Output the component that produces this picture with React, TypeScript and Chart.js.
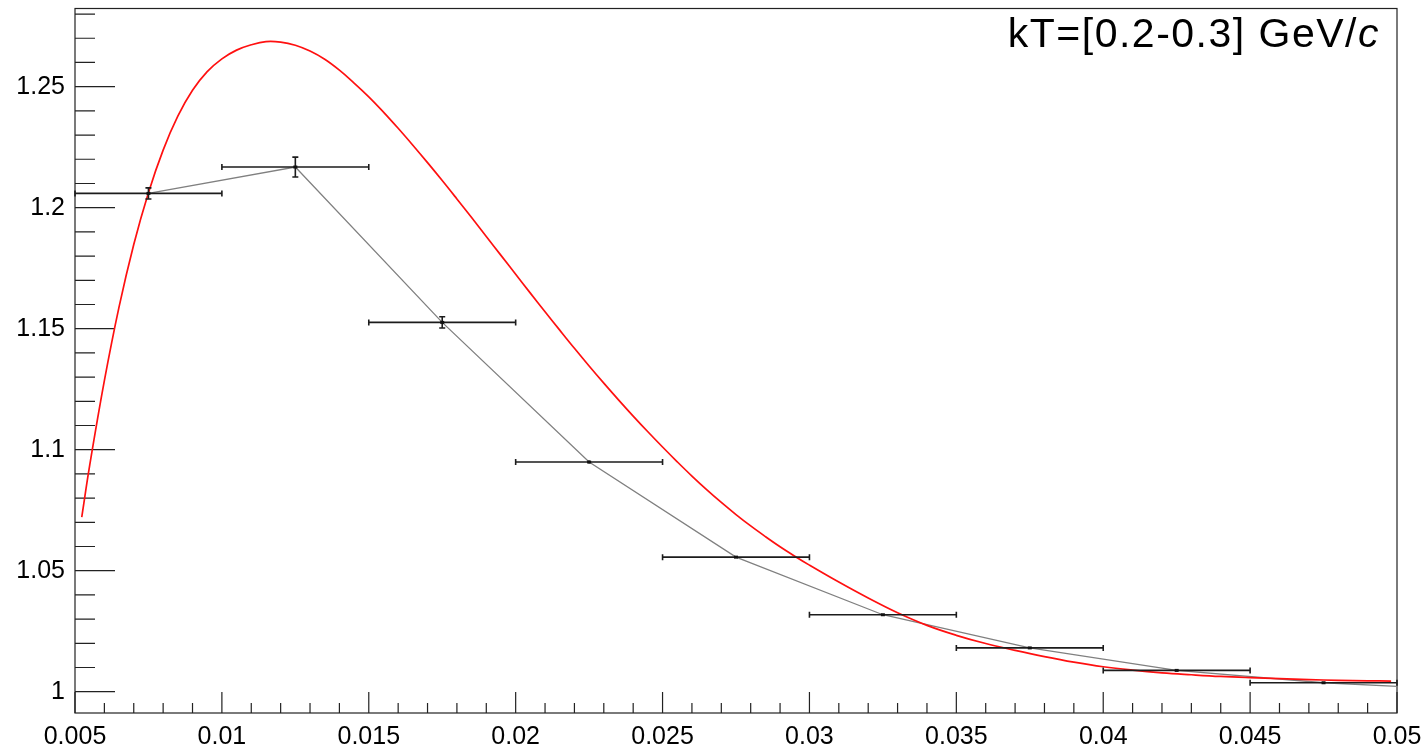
import React, { useEffect, useRef } from 'react';
import { Chart, registerables } from 'chart.js';

Chart.register(...registerables);

// ---- Data ----
const binCenters = [0.0075, 0.0125, 0.0175, 0.0225, 0.0275, 0.0325, 0.0375, 0.0425, 0.0475];
const binHalfWidths = [0.0025, 0.0025, 0.0025, 0.0025, 0.0025, 0.0025, 0.0025, 0.0025, 0.0025];
const dataValues = [1.2059, 1.2168, 1.1526, 1.0949, 1.0556, 1.0318, 1.0181, 1.0088, 1.0037];
const dataErrors = [0.0023, 0.0041, 0.0023, 0.0006, 0.0004, 0.0003, 0.0003, 0.0003, 0.0003];

// grey connecting curve (through points, continued to the frame edge)
const greyX = [0.0075, 0.0125, 0.0175, 0.0225, 0.0275, 0.0325, 0.0375, 0.0425, 0.0475, 0.05];
const greyY = [1.2059, 1.2168, 1.1526, 1.0949, 1.0556, 1.0318, 1.0181, 1.0088, 1.0037, 1.0022];

// red model curve
const fitX = [
  0.00523, 0.0055, 0.006, 0.0065, 0.007, 0.0075, 0.008, 0.0085, 0.009, 0.0095,
  0.01, 0.0105, 0.011, 0.0115, 0.012, 0.0125, 0.013, 0.0135, 0.014, 0.0145,
  0.015, 0.0155, 0.016, 0.0165, 0.017, 0.0175, 0.018, 0.0185, 0.019, 0.0195,
  0.02, 0.0205, 0.021, 0.0215, 0.022, 0.0225, 0.023, 0.0235, 0.024, 0.0245,
  0.025, 0.0255, 0.026, 0.0265, 0.027, 0.0275, 0.028, 0.0285, 0.029, 0.0295,
  0.03, 0.031, 0.032, 0.033, 0.034, 0.035, 0.036, 0.037, 0.038, 0.039,
  0.04, 0.041, 0.042, 0.043, 0.044, 0.045, 0.046, 0.047, 0.048, 0.049, 0.0498,
];
const fitY = [
  1.0721, 1.0935, 1.1285, 1.159, 1.1848, 1.2062, 1.2238, 1.2378, 1.2485, 1.2562,
  1.2615, 1.2651, 1.2673, 1.2686, 1.2684, 1.2671, 1.2647, 1.2613, 1.2568, 1.2515,
  1.2458, 1.2395, 1.2328, 1.2258, 1.2186, 1.2112, 1.2036, 1.1959, 1.1881, 1.1803,
  1.1725, 1.1647, 1.157, 1.1494, 1.1419, 1.1346, 1.1275, 1.1206, 1.1139, 1.1074,
  1.1011, 1.095, 1.0891, 1.0835, 1.0782, 1.0732, 1.0685, 1.0641, 1.0599, 1.056,
  1.0523, 1.0453, 1.0387, 1.0326, 1.0274, 1.0233, 1.0199, 1.0171, 1.0145, 1.0122,
  1.0103, 1.0089, 1.0078, 1.007, 1.0063, 1.0058, 1.0054, 1.005, 1.0047, 1.0045, 1.0044,
];

const xTicks = [0.005, 0.01, 0.015, 0.02, 0.025, 0.03, 0.035, 0.04, 0.045, 0.05];
const xTickLabels = ['0.005', '0.01', '0.015', '0.02', '0.025', '0.03', '0.035', '0.04', '0.045', '0.05'];
const yTicks = [1, 1.05, 1.1, 1.15, 1.2, 1.25];
const yTickLabels = ['1', '1.05', '1.1', '1.15', '1.2', '1.25'];

const xMin = 0.005;
const xMax = 0.05;
const yMin = 0.9912;
const yMax = 1.2823;
const xMinorStep = 0.001;
const yMinorStep = 0.01;

const annotationRegular = 'kT=[0.2-0.3] GeV/';
const annotationItalic = 'c';

const FONT = "'Liberation Sans', Arial, Helvetica, sans-serif";

const rootPlugin = {
  id: 'rootStyle',
  beforeDatasetsDraw(chart: any) {
    const { ctx, chartArea, scales } = chart;
    const xs = scales.x;
    const ys = scales.y;
    const { left, right, top, bottom } = chartArea;
    ctx.save();
    ctx.strokeStyle = '#222';
    ctx.lineWidth = 1.2;
    ctx.strokeRect(left, top, right - left, bottom - top);

    // x ticks (inside, from bottom)
    ctx.beginPath();
    const nx = Math.round((xMax - xMin) / xMinorStep);
    for (let i = 0; i <= nx; i++) {
      const v = xMin + i * xMinorStep;
      const px = xs.getPixelForValue(v);
      const major = i % 5 === 0;
      const len = major ? 21 : 10;
      ctx.moveTo(px, bottom);
      ctx.lineTo(px, bottom - len);
    }
    // y ticks (inside, from left)
    const ny0 = Math.ceil(yMin / yMinorStep - 1e-6);
    const ny1 = Math.floor(yMax / yMinorStep + 1e-6);
    for (let k = ny0; k <= ny1; k++) {
      const v = k * yMinorStep;
      const py = ys.getPixelForValue(v);
      if (py > bottom - 0.5 || py < top + 0.5) continue;
      const major = k % 5 === 0;
      const len = major ? 40 : 20;
      ctx.moveTo(left, py);
      ctx.lineTo(left + len, py);
    }
    ctx.stroke();
    ctx.restore();
  },
  afterDatasetsDraw(chart: any) {
    const { ctx, chartArea, scales } = chart;
    const xs = scales.x;
    const ys = scales.y;
    ctx.save();
    ctx.strokeStyle = '#1c1c1c';
    ctx.lineWidth = 1.6;
    ctx.beginPath();
    for (let i = 0; i < binCenters.length; i++) {
      const cx = xs.getPixelForValue(binCenters[i]);
      const cy = ys.getPixelForValue(dataValues[i]);
      const x0 = xs.getPixelForValue(binCenters[i] - binHalfWidths[i]);
      const x1 = xs.getPixelForValue(binCenters[i] + binHalfWidths[i]);
      const y0 = ys.getPixelForValue(dataValues[i] - dataErrors[i]);
      const y1 = ys.getPixelForValue(dataValues[i] + dataErrors[i]);
      ctx.moveTo(x0, cy);
      ctx.lineTo(x1, cy);
      ctx.moveTo(x0, cy - 3);
      ctx.lineTo(x0, cy + 3);
      ctx.moveTo(x1, cy - 3);
      ctx.lineTo(x1, cy + 3);
      ctx.moveTo(cx, y0);
      ctx.lineTo(cx, y1);
      if (y0 - y1 > 3) {
        ctx.moveTo(cx - 3, y0);
        ctx.lineTo(cx + 3, y0);
        ctx.moveTo(cx - 3, y1);
        ctx.lineTo(cx + 3, y1);
      }
    }
    ctx.stroke();
    ctx.fillStyle = '#111';
    for (let i = 0; i < binCenters.length; i++) {
      const cx = xs.getPixelForValue(binCenters[i]);
      const cy = ys.getPixelForValue(dataValues[i]);
      ctx.fillRect(cx - 2, cy - 1.5, 4, 3);
    }

    // annotation
    ctx.fillStyle = '#000';
    ctx.textBaseline = 'alphabetic';
    ctx.textAlign = 'left';
    try {
      (ctx as any).letterSpacing = '1.5px';
    } catch (e) {
      /* ignore */
    }
    const regFont = `41px ${FONT}`;
    const itFont = `italic 41px ${FONT}`;
    ctx.font = itFont;
    const wIt = ctx.measureText(annotationItalic).width;
    ctx.font = regFont;
    const wReg = ctx.measureText(annotationRegular).width;
    const endX = chartArea.right - 17;
    const baseY = chartArea.top + 38.3;
    const startX = endX - wIt - wReg;
    ctx.fillText(annotationRegular, startX, baseY);
    ctx.font = itFont;
    ctx.fillText(annotationItalic, startX + wReg, baseY);
    ctx.restore();
  },
};

export default function App() {
  const canvasRef = useRef<HTMLCanvasElement | null>(null);

  useEffect(() => {
    if (!canvasRef.current) return;
    const chart = new Chart(canvasRef.current, {
      type: 'scatter',
      data: {
        datasets: [
          {
            label: 'model',
            data: fitX.map((x, i) => ({ x, y: fitY[i] })),
            showLine: true,
            borderColor: '#ff1010',
            borderWidth: 1.7,
            pointRadius: 0,
            tension: 0.4,
            order: 1,
          },
          {
            label: 'data line',
            data: greyX.map((x, i) => ({ x, y: greyY[i] })),
            showLine: true,
            borderColor: '#808080',
            borderWidth: 1.3,
            pointRadius: 0,
            tension: 0,
            order: 2,
          },
        ],
      },
      options: {
        animation: false,
        responsive: false,
        devicePixelRatio: 1,
        layout: { padding: { top: 8.5, right: 30, left: 0, bottom: 0 } },
        plugins: { legend: { display: false }, tooltip: { enabled: false } },
        scales: {
          x: {
            type: 'linear',
            min: xMin,
            max: xMax,
            grid: { display: false, drawTicks: false },
            border: { display: false },
            afterBuildTicks: (s: any) => {
              s.ticks = xTicks.map((v) => ({ value: v }));
            },
            ticks: {
              autoSkip: false,
              maxRotation: 0,
              minRotation: 0,
              padding: 9,
              color: '#000',
              font: { family: FONT, size: 25 },
              callback: (_v: any, i: number) => xTickLabels[i],
            },
            afterFit: (s: any) => {
              s.height = 34;
              s.paddingLeft = 0;
              s.paddingRight = 0;
            },
          },
          y: {
            type: 'linear',
            min: yMin,
            max: yMax,
            grid: { display: false, drawTicks: false },
            border: { display: false },
            afterBuildTicks: (s: any) => {
              s.ticks = yTicks.map((v) => ({ value: v }));
            },
            ticks: {
              autoSkip: false,
              padding: 10,
              color: '#000',
              font: { family: FONT, size: 25 },
              callback: (_v: any, i: number) => yTickLabels[i],
            },
            afterFit: (s: any) => {
              s.width = 75;
              s.paddingTop = 0;
              s.paddingBottom = 0;
            },
          },
        },
      },
      plugins: [rootPlugin],
    } as any);
    return () => chart.destroy();
  }, []);

  return (
    <div style={{ position: 'absolute', left: 0, top: 0, width: 1427, height: 747, background: '#fff' }}>
      <canvas ref={canvasRef} width={1427} height={747} style={{ width: 1427, height: 747, display: 'block' }} />
    </div>
  );
}
